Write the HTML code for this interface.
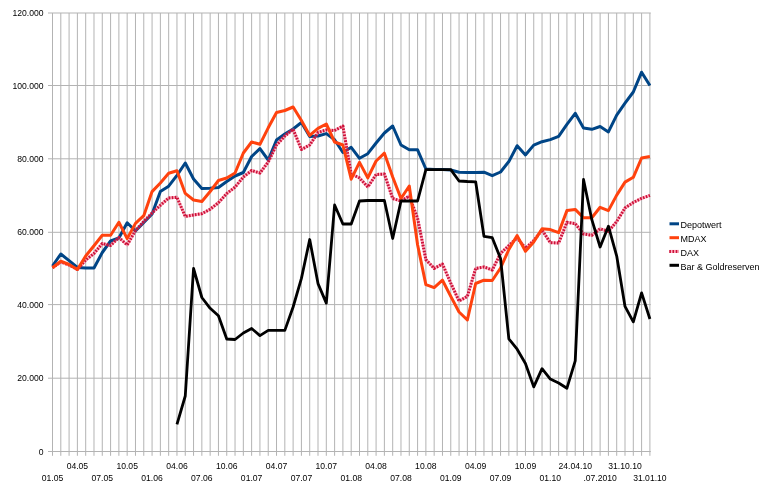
<!DOCTYPE html>
<html><head><meta charset="utf-8"><style>
html,body{margin:0;padding:0;background:#fff;}
body{width:770px;height:489px;overflow:hidden;}
svg{display:block;will-change:transform;}
.t{font-family:"Liberation Sans",Arial,sans-serif;font-size:8.6px;fill:#000;}
.l{font-family:"Liberation Sans",Arial,sans-serif;font-size:9px;fill:#000;}
</style></head><body>
<svg width="770" height="489" viewBox="0 0 770 489">
<rect width="770" height="489" fill="#fff"/>
<path d="M52.50 13.0V455.8 M60.80 13.0V455.8 M69.09 13.0V455.8 M77.39 13.0V455.8 M85.69 13.0V455.8 M93.99 13.0V455.8 M102.28 13.0V455.8 M110.58 13.0V455.8 M118.88 13.0V455.8 M127.17 13.0V455.8 M135.47 13.0V455.8 M143.77 13.0V455.8 M152.07 13.0V455.8 M160.36 13.0V455.8 M168.66 13.0V455.8 M176.96 13.0V455.8 M185.26 13.0V455.8 M193.55 13.0V455.8 M201.85 13.0V455.8 M210.15 13.0V455.8 M218.44 13.0V455.8 M226.74 13.0V455.8 M235.04 13.0V455.8 M243.34 13.0V455.8 M251.63 13.0V455.8 M259.93 13.0V455.8 M268.23 13.0V455.8 M276.52 13.0V455.8 M284.82 13.0V455.8 M293.12 13.0V455.8 M301.42 13.0V455.8 M309.71 13.0V455.8 M318.01 13.0V455.8 M326.31 13.0V455.8 M334.61 13.0V455.8 M342.90 13.0V455.8 M351.20 13.0V455.8 M359.50 13.0V455.8 M367.79 13.0V455.8 M376.09 13.0V455.8 M384.39 13.0V455.8 M392.69 13.0V455.8 M400.98 13.0V455.8 M409.28 13.0V455.8 M417.58 13.0V455.8 M425.88 13.0V455.8 M434.17 13.0V455.8 M442.47 13.0V455.8 M450.77 13.0V455.8 M459.06 13.0V455.8 M467.36 13.0V455.8 M475.66 13.0V455.8 M483.96 13.0V455.8 M492.25 13.0V455.8 M500.55 13.0V455.8 M508.85 13.0V455.8 M517.14 13.0V455.8 M525.44 13.0V455.8 M533.74 13.0V455.8 M542.04 13.0V455.8 M550.33 13.0V455.8 M558.63 13.0V455.8 M566.93 13.0V455.8 M575.23 13.0V455.8 M583.52 13.0V455.8 M591.82 13.0V455.8 M600.12 13.0V455.8 M608.41 13.0V455.8 M616.71 13.0V455.8 M625.01 13.0V455.8 M633.31 13.0V455.8 M641.60 13.0V455.8 M649.90 13.0V455.8 M48 451.50H650.80 M48 378.20H650.80 M48 304.60H650.80 M48 232.30H650.80 M48 158.80H650.80 M48 85.50H650.80 M48 13.00H650.80" stroke="#b3b3b3" stroke-width="1" fill="none"/>
<text x="43.6" y="454.60" text-anchor="end" class="t">0</text>
<text x="43.6" y="381.30" text-anchor="end" class="t">20.000</text>
<text x="43.6" y="307.70" text-anchor="end" class="t">40.000</text>
<text x="43.6" y="235.40" text-anchor="end" class="t">60.000</text>
<text x="43.6" y="161.90" text-anchor="end" class="t">80.000</text>
<text x="43.6" y="88.60" text-anchor="end" class="t">100.000</text>
<text x="43.6" y="16.10" text-anchor="end" class="t">120.000</text>
<text x="52.50" y="481.0" text-anchor="middle" class="t">01.05</text>
<text x="77.39" y="468.5" text-anchor="middle" class="t">04.05</text>
<text x="102.28" y="481.0" text-anchor="middle" class="t">07.05</text>
<text x="127.17" y="468.5" text-anchor="middle" class="t">10.05</text>
<text x="152.07" y="481.0" text-anchor="middle" class="t">01.06</text>
<text x="176.96" y="468.5" text-anchor="middle" class="t">04.06</text>
<text x="201.85" y="481.0" text-anchor="middle" class="t">07.06</text>
<text x="226.74" y="468.5" text-anchor="middle" class="t">10.06</text>
<text x="251.63" y="481.0" text-anchor="middle" class="t">01.07</text>
<text x="276.52" y="468.5" text-anchor="middle" class="t">04.07</text>
<text x="301.42" y="481.0" text-anchor="middle" class="t">07.07</text>
<text x="326.31" y="468.5" text-anchor="middle" class="t">10.07</text>
<text x="351.20" y="481.0" text-anchor="middle" class="t">01.08</text>
<text x="376.09" y="468.5" text-anchor="middle" class="t">04.08</text>
<text x="400.98" y="481.0" text-anchor="middle" class="t">07.08</text>
<text x="425.88" y="468.5" text-anchor="middle" class="t">10.08</text>
<text x="450.77" y="481.0" text-anchor="middle" class="t">01.09</text>
<text x="475.66" y="468.5" text-anchor="middle" class="t">04.09</text>
<text x="500.55" y="481.0" text-anchor="middle" class="t">07.09</text>
<text x="525.44" y="468.5" text-anchor="middle" class="t">10.09</text>
<text x="550.33" y="481.0" text-anchor="middle" class="t">01.10</text>
<text x="575.23" y="468.5" text-anchor="middle" class="t">24.04.10</text>
<text x="600.12" y="481.0" text-anchor="middle" class="t">.07.2010</text>
<text x="625.01" y="468.5" text-anchor="middle" class="t">31.10.10</text>
<text x="649.90" y="481.0" text-anchor="middle" class="t">31.01.10</text>
<polyline points="52.50,266.0 60.80,254.0 69.09,260.6 77.39,267.5 85.69,268.0 93.99,268.0 102.28,252.5 110.58,241.0 118.88,238.0 127.17,222.8 135.47,231.0 143.77,222.5 152.07,214.0 160.36,191.5 168.66,186.2 176.96,175.3 185.26,163.0 193.55,179.0 201.85,188.5 210.15,188.3 218.44,187.5 226.74,181.5 235.04,176.0 243.34,172.5 251.63,156.5 259.93,148.6 268.23,160.0 276.52,140.0 284.82,134.0 293.12,129.0 301.42,122.5 309.71,136.5 318.01,136.0 326.31,133.6 334.61,139.8 342.90,152.5 351.20,147.3 359.50,158.3 367.79,153.7 376.09,143.0 384.39,133.0 392.69,126.0 400.98,145.0 409.28,149.8 417.58,149.8 425.88,169.0 434.17,169.6 442.47,169.6 450.77,170.0 459.06,172.2 467.36,172.5 475.66,172.5 483.96,172.2 492.25,175.7 500.55,172.0 508.85,161.5 517.14,145.7 525.44,155.0 533.74,145.1 542.04,141.7 550.33,139.6 558.63,136.4 566.93,124.4 575.23,113.3 583.52,128.0 591.82,129.3 600.12,126.5 608.41,131.9 616.71,115.1 625.01,103.2 633.31,92.0 641.60,72.2 649.90,85.5" fill="none" stroke="#004586" stroke-width="3" stroke-linejoin="round"/>
<polyline points="52.50,267.7 60.80,262.0 69.09,265.0 77.39,269.5 85.69,260.0 93.99,253.5 102.28,243.5 110.58,245.5 118.88,237.5 127.17,245.0 135.47,230.5 143.77,221.5 152.07,213.0 160.36,205.3 168.66,198.0 176.96,197.3 185.26,216.5 193.55,215.0 201.85,213.7 210.15,209.2 218.44,202.7 226.74,193.6 235.04,187.1 243.34,177.0 251.63,170.5 259.93,173.0 268.23,162.0 276.52,145.0 284.82,136.0 293.12,129.3 301.42,149.5 309.71,145.0 318.01,132.5 326.31,129.9 334.61,130.5 342.90,126.0 351.20,174.0 359.50,177.9 367.79,187.0 376.09,174.5 384.39,174.0 392.69,198.5 400.98,201.0 409.28,196.0 417.58,218.3 425.88,259.6 434.17,268.4 442.47,264.0 450.77,283.2 459.06,301.0 467.36,296.4 475.66,268.4 483.96,266.9 492.25,270.0 500.55,253.5 508.85,245.5 517.14,237.8 525.44,248.3 533.74,240.5 542.04,230.1 550.33,242.6 558.63,243.1 566.93,222.3 575.23,223.6 583.52,234.0 591.82,235.3 600.12,228.8 608.41,231.4 616.71,221.5 625.01,208.0 633.31,202.5 641.60,198.3 649.90,195.4" fill="none" stroke="rgba(255,70,110,0.42)" stroke-width="3" stroke-linejoin="round"/>
<polyline points="52.50,267.7 60.80,262.0 69.09,265.0 77.39,269.5 85.69,260.0 93.99,253.5 102.28,243.5 110.58,245.5 118.88,237.5 127.17,245.0 135.47,230.5 143.77,221.5 152.07,213.0 160.36,205.3 168.66,198.0 176.96,197.3 185.26,216.5 193.55,215.0 201.85,213.7 210.15,209.2 218.44,202.7 226.74,193.6 235.04,187.1 243.34,177.0 251.63,170.5 259.93,173.0 268.23,162.0 276.52,145.0 284.82,136.0 293.12,129.3 301.42,149.5 309.71,145.0 318.01,132.5 326.31,129.9 334.61,130.5 342.90,126.0 351.20,174.0 359.50,177.9 367.79,187.0 376.09,174.5 384.39,174.0 392.69,198.5 400.98,201.0 409.28,196.0 417.58,218.3 425.88,259.6 434.17,268.4 442.47,264.0 450.77,283.2 459.06,301.0 467.36,296.4 475.66,268.4 483.96,266.9 492.25,270.0 500.55,253.5 508.85,245.5 517.14,237.8 525.44,248.3 533.74,240.5 542.04,230.1 550.33,242.6 558.63,243.1 566.93,222.3 575.23,223.6 583.52,234.0 591.82,235.3 600.12,228.8 608.41,231.4 616.71,221.5 625.01,208.0 633.31,202.5 641.60,198.3 649.90,195.4" fill="none" stroke="#cc1038" stroke-width="3" stroke-dasharray="1.6 1.4" stroke-linejoin="round"/>
<polyline points="52.50,267.7 60.80,261.2 69.09,264.5 77.39,269.5 85.69,256.0 93.99,245.7 102.28,235.3 110.58,235.3 118.88,222.3 127.17,238.6 135.47,223.4 143.77,215.7 152.07,191.6 160.36,183.0 168.66,173.3 176.96,170.7 185.26,193.4 193.55,200.0 201.85,201.5 210.15,191.5 218.44,180.5 226.74,178.0 235.04,173.0 243.34,153.0 251.63,142.0 259.93,144.3 268.23,127.8 276.52,112.5 284.82,110.5 293.12,107.0 301.42,120.5 309.71,135.4 318.01,128.4 326.31,124.0 334.61,142.0 342.90,145.0 351.20,179.2 359.50,162.4 367.79,177.9 376.09,161.0 384.39,153.2 392.69,177.0 400.98,198.5 409.28,186.0 417.58,244.8 425.88,284.6 434.17,287.6 442.47,280.2 450.77,296.4 459.06,312.0 467.36,320.0 475.66,283.5 483.96,280.2 492.25,280.5 500.55,268.0 508.85,249.5 517.14,235.6 525.44,251.3 533.74,242.0 542.04,228.8 550.33,229.6 558.63,232.7 566.93,210.6 575.23,209.4 583.52,217.7 591.82,217.7 600.12,207.3 608.41,210.6 616.71,195.1 625.01,182.1 633.31,177.3 641.60,158.0 649.90,156.5" fill="none" stroke="#ff420e" stroke-width="3" stroke-linejoin="round"/>
<polyline points="176.96,424.3 185.26,396.0 193.55,268.5 201.85,297.5 210.15,308.3 218.44,315.8 226.74,339.0 235.04,339.5 243.34,333.0 251.63,328.5 259.93,335.6 268.23,330.4 276.52,330.4 284.82,330.4 293.12,307.0 301.42,278.4 309.71,239.5 318.01,283.6 326.31,303.1 334.61,205.0 342.90,224.0 351.20,224.0 359.50,201.0 367.79,200.5 376.09,200.5 384.39,200.5 392.69,238.5 400.98,201.0 409.28,201.0 417.58,201.0 425.88,169.6 434.17,169.6 442.47,169.6 450.77,169.6 459.06,181.0 467.36,181.5 475.66,181.8 483.96,236.3 492.25,237.7 500.55,258.5 508.85,338.8 517.14,349.2 525.44,363.5 533.74,386.9 542.04,368.7 550.33,379.1 558.63,383.0 566.93,388.2 575.23,360.9 583.52,179.5 591.82,219.7 600.12,247.0 608.41,226.2 616.71,256.1 625.01,306.4 633.31,321.9 641.60,292.9 649.90,319.0" fill="none" stroke="#000" stroke-width="2.8" stroke-linejoin="round"/>
<path d="M669.5 223.8H679" stroke="#004586" stroke-width="3"/>
<text x="680.4" y="228.2" class="l">Depotwert</text>
<path d="M669.5 237.7H679" stroke="#ff420e" stroke-width="3"/>
<text x="680.4" y="242.1" class="l">MDAX</text>
<path d="M669.5 251.4H679" stroke="rgba(255,70,110,0.42)" stroke-width="3"/>
<path d="M669.3 251.4H679" stroke="#cc1038" stroke-width="3" stroke-dasharray="1.6 1.6"/>
<text x="680.4" y="255.8" class="l">DAX</text>
<path d="M669.5 265.3H679" stroke="#000" stroke-width="3"/>
<text x="680.4" y="269.7" class="l">Bar &amp; Goldreserven</text>
</svg>
</body></html>
